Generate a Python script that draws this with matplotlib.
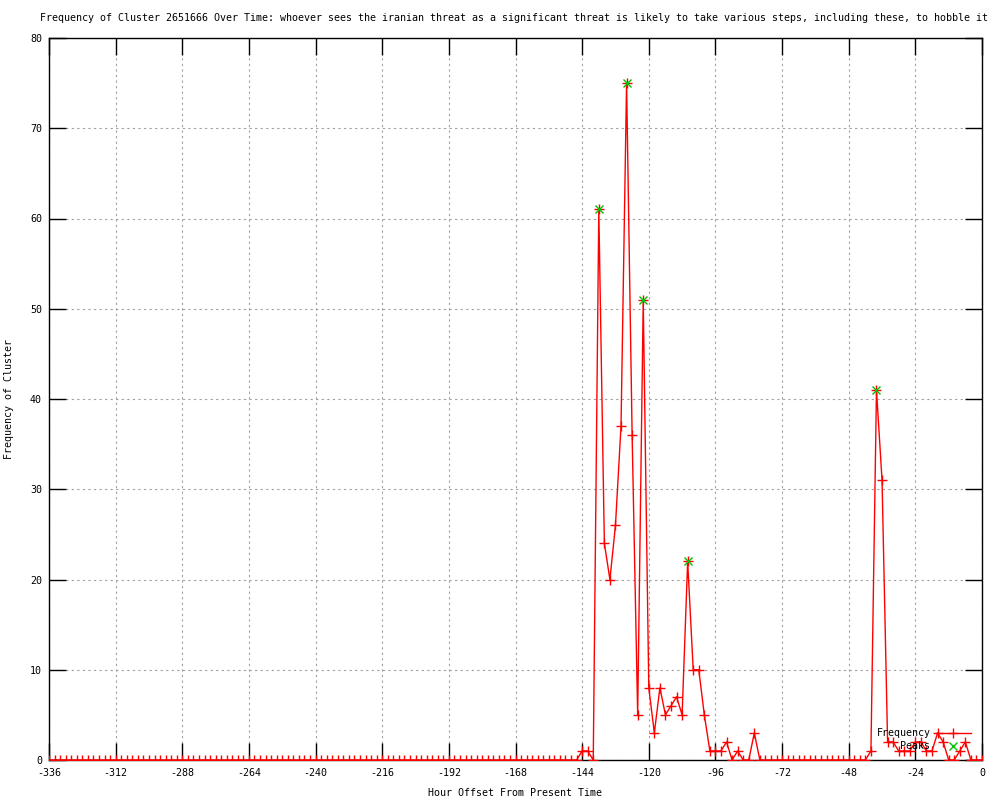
import numpy as np
import matplotlib
matplotlib.use("Agg")
import matplotlib.pyplot as plt
from matplotlib.lines import Line2D

plt.rcParams['font.family'] = ['DejaVu Sans Mono']
plt.rcParams['axes.unicode_minus'] = False

# Data: one sample every 2 hours, from -336 to 0
hours = np.arange(-336, 1, 2)
frequency = [
    0, 0, 0, 0, 0, 0, 0, 0, 0, 0, 0, 0, 0, 0, 0, 0, 0, 0, 0, 0, 0, 0, 0, 0,   # -336 .. -290
    0, 0, 0, 0, 0, 0, 0, 0, 0, 0, 0, 0, 0, 0, 0, 0, 0, 0, 0, 0, 0, 0, 0, 0,   # -288 .. -242
    0, 0, 0, 0, 0, 0, 0, 0, 0, 0, 0, 0, 0, 0, 0, 0, 0, 0, 0, 0, 0, 0, 0, 0,   # -240 .. -194
    0, 0, 0, 0, 0, 0, 0, 0, 0, 0, 0, 0, 0, 0, 0, 0, 0, 0, 0, 0, 0, 0, 0, 0,   # -192 .. -146
    1, 1, 0, 61, 24, 20, 26, 37, 75, 36, 5, 51,                             # -144 .. -122
    8, 3, 8, 5, 6, 7, 5, 22, 10, 10, 5, 1,                                  # -120 .. -98
    1, 1, 2, 0, 1, 0, 0, 3, 0,                                              # -96 .. -80
    0, 0, 0, 0, 0, 0, 0, 0, 0, 0, 0, 0, 0, 0, 0, 0, 0, 0, 0,                # -78 .. -42
    1, 41, 31, 2, 2, 1, 1, 1, 2, 2, 1, 1, 3, 2, 0, 0, 1, 2, 0, 0, 0,        # -40 .. 0
]
peak_hours = [-138, -128, -122, -106, -38]
peak_values = [61, 75, 51, 22, 41]

x_ticks = list(range(-336, 1, 24))
y_ticks = list(range(0, 81, 10))

title = ("Frequency of Cluster 2651666 Over Time: whoever sees the iranian threat as a "
         "significant threat is likely to take various steps, including these, to hobble it")

fs = 7.2
red = '#ff0000'
green = '#00c000'

fig = plt.figure(figsize=(10, 8), dpi=100)
ax = fig.add_axes([0.049, 0.05, 0.933, 0.9025])

ax.plot(hours, frequency, color=red, lw=1, marker='+', markersize=7, mew=1, zorder=3)
ax.plot(peak_hours, peak_values, linestyle='none', color=green, marker='x',
        markersize=5.5, mew=1, zorder=4)

ax.set_xlim(-336, 0)
ax.set_ylim(0, 80)
ax.set_xticks(x_ticks)
ax.set_yticks(y_ticks)
ax.tick_params(direction='in', length=12, width=1, top=True, right=True,
               labelsize=fs, color='black')
ax.tick_params(axis='x', pad=6)
ax.tick_params(axis='y', pad=5)
ax.grid(True, color='#a0a0a0', linestyle=(0, (2, 3)), lw=0.8)
ax.set_axisbelow(True)
for sp in ax.spines.values():
    sp.set_linewidth(1)
    sp.set_color('black')

ax.set_xlabel('Hour Offset From Present Time', fontsize=fs)
ax.xaxis.set_label_coords(0.5, -0.039)
ax.set_ylabel('Frequency of Cluster', fontsize=fs)
ax.yaxis.set_label_coords(-0.037, 0.5)
fig.text(0.514, 0.978, title, fontsize=fs, ha='center', va='center')

# gnuplot style key: text on the left, right aligned
handles = [Line2D([], [], color=red, lw=1, marker='+', markersize=7, mew=1),
           Line2D([], [], color=green, linestyle='none', marker='x', markersize=5.5, mew=1)]
ax.legend(handles, ['Frequency', '    Peaks'], loc='lower right',
          bbox_to_anchor=(0.9755, 0.0545), bbox_transform=fig.transFigure,
          frameon=False, markerfirst=False, numpoints=1, fontsize=fs,
          handlelength=3.5, handletextpad=0.5, labelspacing=0.3, borderpad=0)

fig.savefig('out.png', dpi=100)
